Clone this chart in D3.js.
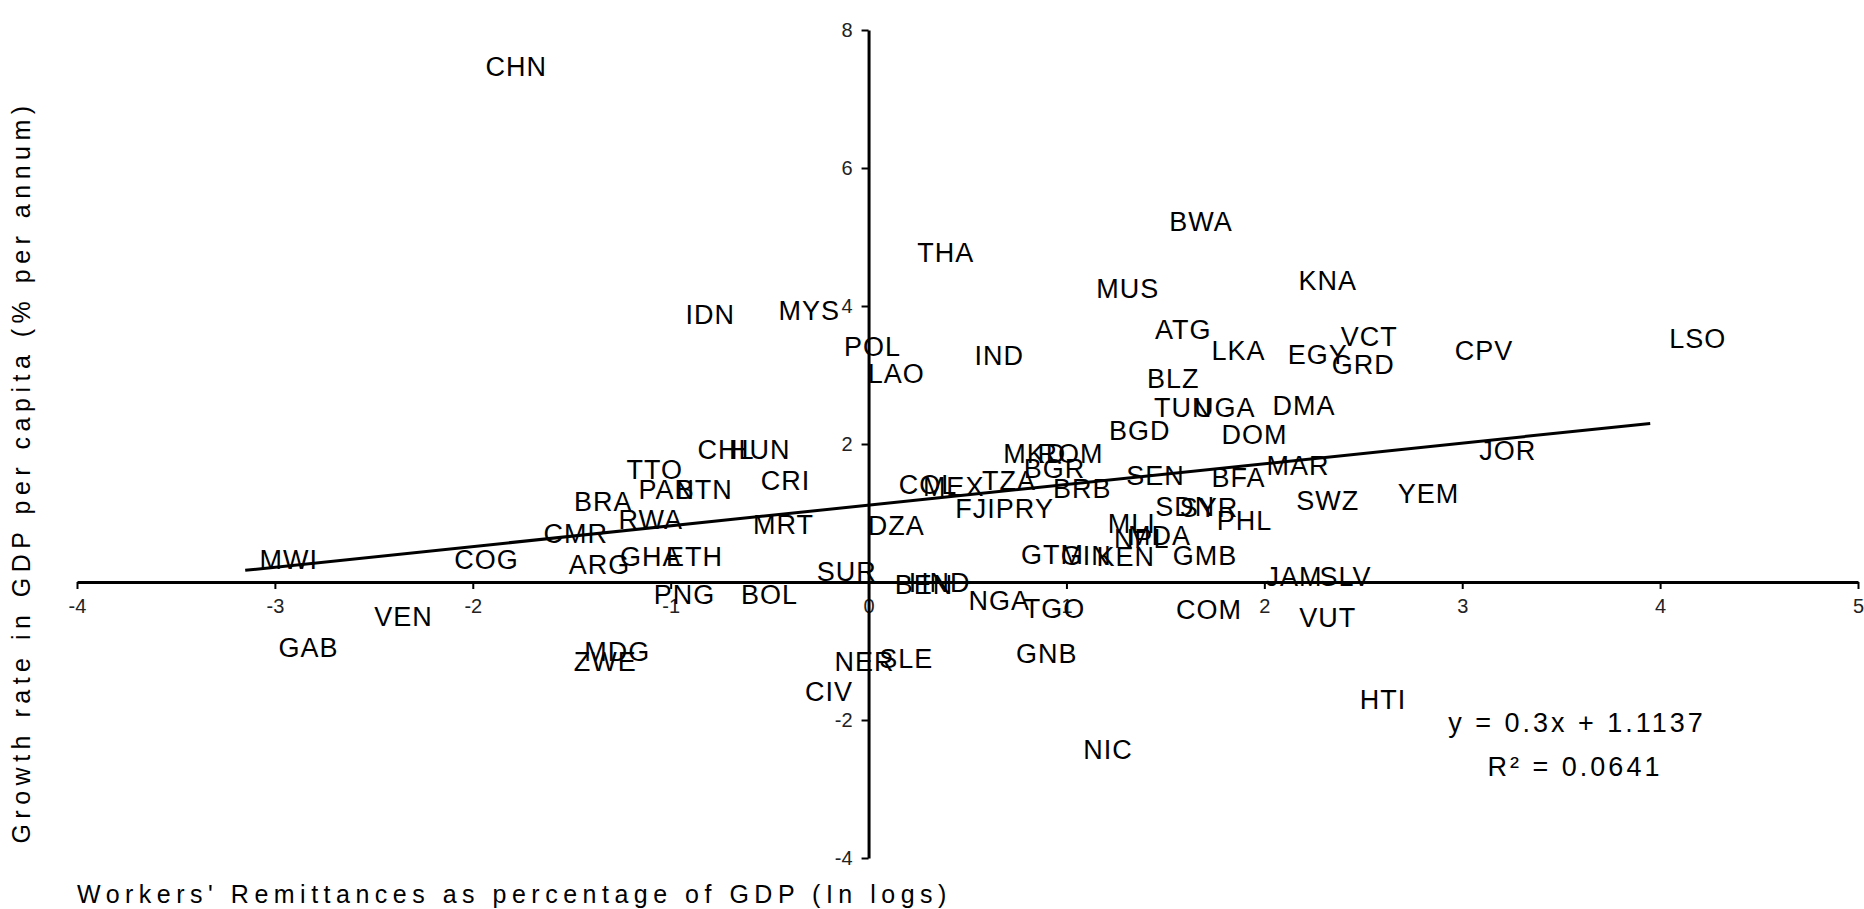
<!DOCTYPE html>
<html>
<head>
<meta charset="utf-8">
<script src="https://cdn.jsdelivr.net/npm/d3@7"></script>
<style>
  body { margin: 0; background: #fff; }
  svg { font-family: "Liberation Sans", Arial, sans-serif; }
</style>
</head>
<body>
<svg id="scatter"></svg>
<script>
// country codes, remittances (x, in logs) and growth (y)
let countries = ["CHN","THA","BWA","KNA","MUS","IDN","MYS","ATG","POL","LAO","IND","LKA","EGY","VCT","GRD","CPV","LSO",
  "BLZ","TUN","UGA","DMA","BGD","DOM","JOR","MAR","BFA","SWZ","YEM","SEN","PHL","SDN","SYR","MLI","MDA","NPL","GMB",
  "GTM","GIN","KEN","COM","JAM","SLV","VUT","HTI","NIC","GNB","TGO","NGA","NER","SLE","CIV","BEN","HND","SUR","DZA",
  "COL","MEX","TZA","BRB","MKD","BGR","ROM","FJI","PRY","CRI","CHL","HUN","TTO","PAN","BTN","BRA","CMR","RWA","MRT",
  "ARG","GHA","ETH","PNG","BOL","MWI","COG","VEN","GAB","MDG","ZWE"];
let remittances = [-1.78,0.39,1.68,2.32,1.31,-0.80,-0.30,1.59,0.02,0.14,0.66,1.87,2.27,2.53,2.50,3.11,4.19,
  1.54,1.59,1.80,2.20,1.37,1.95,3.23,2.17,1.87,2.32,2.83,1.45,1.90,1.60,1.72,1.33,1.47,1.38,1.70,
  0.93,1.10,1.30,1.72,2.15,2.41,2.32,2.60,1.21,0.90,0.94,0.66,-0.02,0.19,-0.20,0.28,0.36,-0.11,0.14,
  0.30,0.43,0.71,1.08,0.84,0.94,1.02,0.54,0.79,-0.42,-0.72,-0.55,-1.08,-1.02,-0.83,-1.34,-1.48,-1.10,-0.43,
  -1.36,-1.10,-0.88,-0.93,-0.50,-2.93,-1.93,-2.35,-2.83,-1.27,-1.33];
let growth = [7.46,4.77,5.22,4.36,4.25,3.87,3.93,3.65,3.41,3.01,3.28,3.35,3.29,3.55,3.14,3.35,3.52,
  2.94,2.52,2.52,2.55,2.19,2.13,1.90,1.68,1.51,1.17,1.28,1.54,0.88,1.09,1.07,0.84,0.67,0.62,0.38,
  0.39,0.38,0.36,-0.41,0.07,0.07,-0.52,-1.71,-2.44,-1.04,-0.39,-0.27,-1.16,-1.12,-1.59,-0.05,-0.02,0.14,0.81,
  1.41,1.37,1.46,1.35,1.86,1.64,1.86,1.06,1.06,1.46,1.91,1.91,1.62,1.33,1.33,1.16,0.70,0.90,0.82,
  0.25,0.36,0.36,-0.19,-0.19,0.32,0.32,-0.51,-0.96,-1.01,-1.16];

// linear trend shown in the chart
let trendSlope = 0.3, trendIntercept = 1.1137,
    trendRange = [-3.15, 3.95];
let xTicks = [-4,-3,-2,-1,0,1,2,3,4,5],
    yTicks = [-4,-2,2,4,6,8];
let xTitle = "Workers' Remittances as percentage of GDP (In logs)",
    yTitle = "Growth rate in GDP per capita (% per annum)",
    eqText = "y = 0.3x + 1.1137",
    r2Text = "R\u00B2 = 0.0641";

let width = 1864, height = 909;

let svg = d3.select("#scatter")
  .attr("width", width)
  .attr("height", height);

svg.append("rect").attr("width", width).attr("height", height).attr("fill", "#fff");

let x = d3.scaleLinear().domain([-4, 5]).range([77, 1858]),
    y = d3.scaleLinear().domain([-4, 8]).range([858, 30]);

// axes crossing at the origin
let xAxis = d3.axisBottom(x).tickValues(xTicks).tickSizeInner(7).tickSizeOuter(0).tickPadding(10)
      .tickFormat(function(d){ return String(d); }),
    yAxis = d3.axisLeft(y).tickValues(yTicks).tickSizeInner(7).tickSizeOuter(0).tickPadding(9)
      .tickFormat(function(d){ return String(d); });

let gx = svg.append("g").attr("transform", "translate(0," + y(0) + ")").call(xAxis);
let gy = svg.append("g").attr("transform", "translate(" + x(0) + ",0)").call(yAxis);

[gx, gy].forEach(function(g){
  g.select(".domain").attr("stroke", "#000").attr("stroke-width", 3);
  g.selectAll(".tick line").attr("stroke", "#000").attr("stroke-width", 2);
  g.selectAll(".tick text").attr("fill", "#222").style("font-size", "20px")
    .style("font-family", "Liberation Sans, Arial, sans-serif");
});

// trend line
let trend = trendRange.map(function(v){ return {x: v, y: trendSlope * v + trendIntercept}; });
svg.append("path")
  .datum(trend)
  .attr("fill", "none")
  .attr("stroke", "#000")
  .attr("stroke-width", 3)
  .attr("d", d3.line().x(function(d){ return x(d.x); }).y(function(d){ return y(d.y); }));

// country labels used as markers
let points = countries.map(function(c, i){ return {code: c, x: remittances[i], y: growth[i]}; });
svg.append("g").selectAll("text")
  .data(points)
  .enter().append("text")
    .attr("x", function(d){ return x(d.x); })
    .attr("y", function(d){ return y(d.y); })
    .attr("text-anchor", "middle")
    .attr("dominant-baseline", "central")
    .style("font-size", "27px")
    .style("letter-spacing", "1px")
    .attr("fill", "#000")
    .text(function(d){ return d.code; });

// equation
svg.append("text")
  .attr("x", 1577).attr("y", 723)
  .attr("text-anchor", "middle").attr("dominant-baseline", "central")
  .style("font-size", "27px").style("letter-spacing", "3px")
  .text(eqText);
svg.append("text")
  .attr("x", 1575).attr("y", 767)
  .attr("text-anchor", "middle").attr("dominant-baseline", "central")
  .style("font-size", "27px").style("letter-spacing", "3px")
  .text(r2Text);

// axis titles
svg.append("text")
  .attr("x", 77).attr("y", 894)
  .attr("dominant-baseline", "central")
  .style("font-size", "25px").style("letter-spacing", "5.5px")
  .text(xTitle);

svg.append("text")
  .attr("transform", "translate(21,472) rotate(-90)")
  .attr("text-anchor", "middle").attr("dominant-baseline", "central")
  .style("font-size", "25px").style("letter-spacing", "5.5px")
  .text(yTitle);
</script>
</body>
</html>
